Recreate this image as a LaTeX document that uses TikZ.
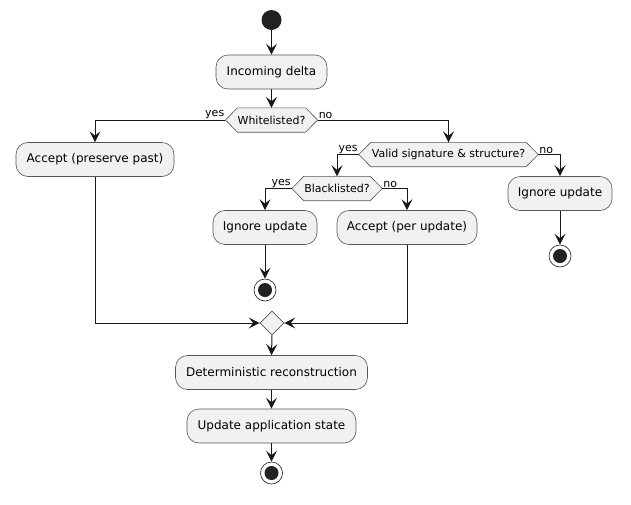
\documentclass[tikz,border=0pt]{standalone}
\usepackage{fontspec}
\setmainfont{DejaVu Sans}
\usetikzlibrary{arrows.meta,backgrounds,shapes.geometric}
\definecolor{boxfill}{HTML}{F1F1F1}
\definecolor{ink}{HTML}{181818}
\definecolor{boxline}{HTML}{555555}
\definecolor{dot}{HTML}{222222}
\newcommand{\hexdraw}[1]{%
  \begin{pgfonlayer}{background}
  \draw[hexline] (#1.north west) -- (#1.north east) -- ([xshift=12pt]#1.east) -- (#1.south east) -- (#1.south west) -- ([xshift=-12pt]#1.west) -- cycle;
  \end{pgfonlayer}
  \coordinate (#1L) at ([xshift=-12pt]#1.west);
  \coordinate (#1R) at ([xshift=12pt]#1.east);}
\begin{document}
\begin{tikzpicture}[x=1pt,y=-1pt,
  box/.style={draw=boxline, fill=boxfill, rounded corners=12pt, line width=0.6pt, minimum height=34pt, inner xsep=0pt, font=\fontsize{12}{14}\selectfont},
  hexa/.style={minimum height=24pt, inner xsep=0pt, inner ysep=0pt, font=\fontsize{11}{13}\selectfont},
  hexline/.style={draw=boxline, fill=boxfill, line width=0.6pt},
  lbl/.style={inner sep=1pt, font=\fontsize{11}{13}\selectfont},
  flow/.style={draw=ink, line width=1pt, -{Stealth[length=11pt,width=11pt,inset=4.5pt]}},
  startnode/.style={circle, fill=dot, minimum size=20pt, inner sep=0pt},
  endnode/.style={circle, draw=ink, line width=0.6pt, fill=white, minimum size=22pt, inner sep=0pt,
    path picture={\fill[dot] (path picture bounding box.center) circle (7pt);}},
  merge/.style={diamond, draw=boxline, fill=boxfill, line width=0.6pt, minimum width=24pt, minimum height=24pt, inner sep=0pt}
]
\useasboundingbox (0,0) rectangle (631,504);

\node[startnode] (start) at (271.5,20) {};
\node[box, minimum width=111pt] (inc) at (271.5,72) {Incoming delta};
\node[hexa, minimum width=67pt] (wl) at (271.5,120) {Whitelisted?};
\hexdraw{wl}
\node[box, minimum width=158pt] (accp) at (95,159.5) {Accept (preserve past)};
\node[hexa, minimum width=155pt] (va) at (448.5,154.5) {Valid signature \& structure?};
\hexdraw{va}
\node[hexa, minimum width=66pt] (bl) at (337,188.5) {Blacklisted?};
\hexdraw{bl}
\node[box, minimum width=104pt] (ign1) at (265,227.5) {Ignore update};
\node[endnode] (end1) at (265,290) {};
\node[box, minimum width=140pt] (accu) at (407,227.5) {Accept (per update)};
\node[box, minimum width=104pt] (ign2) at (560,193.5) {Ignore update};
\node[endnode] (end2) at (560,256) {};
\node[merge] (mg) at (272,323) {};
\node[box, minimum width=192pt] (det) at (271.5,372.5) {Deterministic reconstruction};
\node[box, minimum width=169pt] (upd) at (271.5,426) {Update application state};
\node[endnode] (end3) at (271.5,473) {};

\draw[flow] (start) -- (inc);
\draw[flow] (inc) -- (wl.north);
\draw[flow] (wlL) -| (accp.north);
\draw[flow] (wlR) -| (va.north);
\node[lbl, anchor=south east] at (wlL) {yes};
\node[lbl, anchor=south west] at (wlR) {no};
\draw[flow] (vaL) -| (bl.north);
\draw[flow] (vaR) -| (ign2.north);
\node[lbl, anchor=south east] at (vaL) {yes};
\node[lbl, anchor=south west] at (vaR) {no};
\draw[flow] (blL) -| (ign1.north);
\draw[flow] (blR) -| (accu.north);
\node[lbl, anchor=south east] at (blL) {yes};
\node[lbl, anchor=south west] at (blR) {no};
\draw[flow] (ign1) -- (end1);
\draw[flow] (ign2) -- (end2);
\draw[flow] (accp.south) |- (mg.west);
\draw[flow] (accu.south) |- (mg.east);
\draw[flow] (mg.south) -- (det.north);
\draw[flow] (det) -- (upd);
\draw[flow] (upd) -- (end3);
\end{tikzpicture}
\end{document}
